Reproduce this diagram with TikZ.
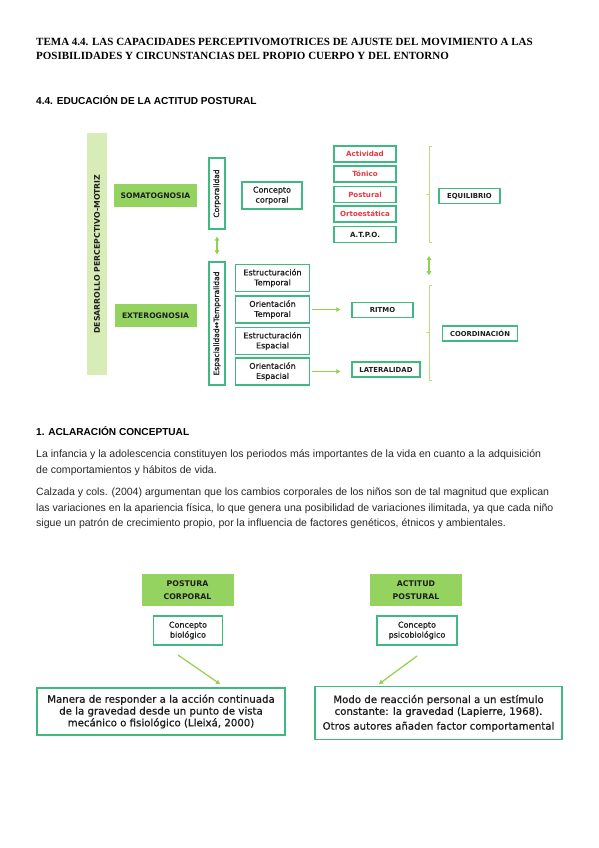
\documentclass[tikz,border=0pt]{standalone}
\usepackage{fontspec}
\setmainfont{Liberation Sans}
\newfontfamily\titlefont{Liberation Serif}
\newfontfamily\djfont[FakeBold=0.9]{DejaVu Sans}
\newfontfamily\djbold{DejaVu Sans Bold}
\usetikzlibrary{arrows.meta}
\definecolor{bdgreen}{RGB}{62,186,128}
\definecolor{fgreen}{RGB}{148,211,96}
\definecolor{pgreen}{RGB}{216,236,184}
\definecolor{agreen}{RGB}{146,208,80}
\definecolor{bgreen}{RGB}{190,220,130}
\definecolor{redtxt}{RGB}{232,56,64}
\definecolor{txtdark}{RGB}{30,30,30}
\definecolor{bodytxt}{RGB}{40,40,40}
\begin{document}
\begin{tikzpicture}[x=1pt,y=-1pt,
  box/.style={draw=bdgreen, line width=1.3pt, fill=white, inner sep=1pt, align=center, text=txtdark, font=\djfont\fontsize{8}{10}\selectfont},
  capbox/.style={box, font=\djbold\fontsize{6.9}{8}\selectfont},
  redbox/.style={box, minimum width=62pt, minimum height=16pt, text=redtxt, font=\djbold\fontsize{7.1}{8}\selectfont},
  gbox/.style={fill=fgreen, inner sep=1pt, align=center, text=txtdark, font=\djbold\fontsize{7.6}{9}\selectfont},
  vbox/.style={box, rotate=90, minimum height=16pt, inner sep=0pt, font=\djfont\fontsize{7.5}{8}\selectfont},
  arr/.style={draw=agreen, line width=1.2pt, -{Triangle[length=4pt,width=4.5pt]}},
  darr/.style={draw=agreen, line width=1.2pt, {Triangle[length=4pt,width=4.5pt]}-{Triangle[length=4pt,width=4.5pt]}},
  brk/.style={draw=bgreen, line width=0.8pt},
  titletxt/.style={anchor=base west, inner sep=0pt, font=\titlefont\bfseries\fontsize{11}{14}\selectfont},
  headtxt/.style={anchor=base west, inner sep=0pt, text=black, font=\bfseries\fontsize{10.1}{12}\selectfont},
  bodyline/.style={anchor=base west, inner sep=0pt, text=bodytxt, font=\fontsize{10.55}{16}\selectfont},
]
\fill[white] (0,0) rectangle (599,848);
\useasboundingbox (0,0) rectangle (599,848);

% headings and text
\node[titletxt] (t1) at (36,46) {TEMA 4.4. LAS CAPACIDADES PERCEPTIVOMOTRICES DE AJUSTE DEL MOVIMIENTO A LAS};
\node[titletxt] (t2) at (36,60) {POSIBILIDADES Y CIRCUNSTANCIAS DEL PROPIO CUERPO Y DEL ENTORNO};
\node[headtxt] (h1) at (36,105) {4.4. EDUCACIÓN DE LA ACTITUD POSTURAL};
\node[headtxt] (h2) at (36,435) {1. ACLARACIÓN CONCEPTUAL};
\node[bodyline] (p1) at (36,457) {La infancia y la adolescencia constituyen los periodos más importantes de la vida en cuanto a la adquisición};
\node[bodyline] (p2) at (36,473) {de comportamientos y hábitos de vida.};
\node[bodyline] (p3) at (36,495) {Calzada y cols. (2004) argumentan que los cambios corporales de los niños son de tal magnitud que explican};
\node[bodyline] (p4) at (36,511) {las variaciones en la apariencia física, lo que genera una posibilidad de variaciones ilimitada, ya que cada niño};
\node[bodyline] (p5) at (36,526) {sigue un patrón de crecimiento propio, por la influencia de factores genéticos, étnicos y ambientales.};

% top diagram
\node[fill=pgreen, rotate=90, minimum width=242pt, minimum height=20pt, inner sep=0pt, text=txtdark, font=\djbold\fontsize{7.8}{9}\selectfont] (bar) at (97,254) {DESARROLLO PERCEPCTIVO-MOTRIZ};
\node[gbox, minimum width=83pt, minimum height=23pt] (soma) at (155.5,195.5) {SOMATOGNOSIA};
\node[gbox, minimum width=82pt, minimum height=23pt] (extero) at (155.5,315.5) {EXTEROGNOSIA};
\node[vbox, minimum width=71pt] (corpo) at (217,193.5) {Corporalidad};
\node[vbox, minimum width=123pt] (espa) at (217,323.5) {Espacialidad↔Temporalidad};
\draw[darr, shorten <=7pt, shorten >=7pt] (corpo.west) -- (espa.east);

\node[box, minimum width=60pt, minimum height=27pt] (cc) at (272,195.5) {Concepto\\corporal};
\node[box, minimum width=74pt, minimum height=27pt] (et) at (272.5,278) {Estructuración\\Temporal};
\node[box, minimum width=74pt, minimum height=27pt] (ot) at (272.5,309.5) {Orientación\\Temporal};
\node[box, minimum width=74pt, minimum height=27pt] (ee) at (272.5,341) {Estructuración\\Espacial};
\node[box, minimum width=74pt, minimum height=27pt] (oe) at (272.5,371.5) {Orientación\\Espacial};

\node[redbox] (act) at (365,154) {Actividad};
\node[redbox] (ton) at (365,174) {Tónico};
\node[redbox] (pos) at (365,194.5) {Postural};
\node[redbox] (ort) at (365,214) {Ortoestática};
\node[redbox, text=txtdark] (atpo) at (365,234.7) {A.T.P.O.};

\node[capbox, minimum width=61pt, minimum height=15pt] (ritmo) at (382.5,310) {RITMO};
\node[capbox, minimum width=68pt, minimum height=15pt] (lat) at (386,369.5) {LATERALIDAD};
\draw[arr, shorten <=2pt, shorten >=11pt] (ot.east) -- (ritmo.west |- ot.east);
\draw[arr, shorten <=2pt, shorten >=11pt] (oe.east) -- (lat.west |- oe.east);

\node[capbox, minimum width=61pt, minimum height=15pt] (equi) at (469.5,196) {EQUILIBRIO};
\node[capbox, minimum width=75pt, minimum height=15pt, font=\djbold\fontsize{6.8}{8}\selectfont] (coord) at (480,333.5) {COORDINACIÓN};

% brackets
\draw[brk] (432,146) -- (429,146) -- (429,242) -- (432,242);
\draw[brk] (429,194) -- (425.5,194);
\draw[brk] (432,285.7) -- (429,285.7) -- (429,380) -- (432,380);
\draw[brk] (429,332.7) -- (425.5,332.7);
\coordinate (b1bot) at (429,242);
\coordinate (b2top) at (429,285.7);
\draw[darr, shorten <=14pt, shorten >=10.5pt] (b1bot) -- (b2top);

% bottom diagram
\node[gbox, minimum width=92pt, minimum height=32pt, font=\djbold\fontsize{7.8}{12.5}\selectfont] (postura) at (187.5,590) {POSTURA\\CORPORAL};
\node[box, minimum width=69pt, minimum height=29pt] (bio) at (188,630.5) {Concepto\\biológico};
\node[box, minimum width=248pt, minimum height=47pt, font=\djfont\fontsize{10.2}{11.8}\selectfont] (man) at (161,711.5) {Manera de responder a la acción continuada\\de la gravedad desde un punto de vista\\mecánico o fisiológico (Lleixá, 2000)};
\coordinate (a1s) at (178,655);
\coordinate (a1e) at (220,684);
\draw[arr] (a1s) -- (a1e);

\node[gbox, minimum width=92pt, minimum height=32pt, font=\djbold\fontsize{7.8}{12.5}\selectfont] (actitud) at (416,590) {ACTITUD\\POSTURAL};
\node[box, minimum width=80pt, minimum height=29pt] (psico) at (417,630.5) {Concepto\\psicobiológico};
\node[box, minimum width=247pt, minimum height=53pt, font=\djfont\fontsize{10.2}{11.8}\selectfont] (modo) at (438.5,713.3) {Modo de reacción personal a un estímulo\\constante: la gravedad (Lapierre, 1968).\\[3pt]Otros autores añaden factor comportamental};
\coordinate (a2s) at (417,656);
\coordinate (a2e) at (379,684);
\draw[arr] (a2s) -- (a2e);
\end{tikzpicture}
\end{document}
